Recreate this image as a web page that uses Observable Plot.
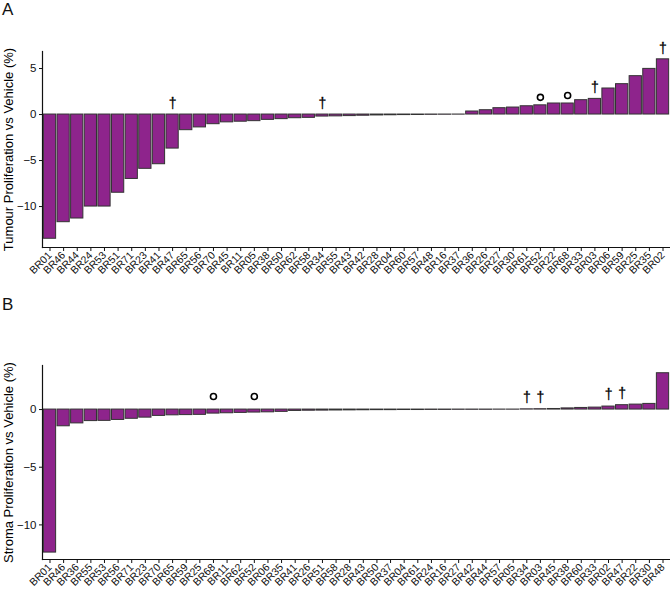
<!DOCTYPE html>
<html>
<head>
<meta charset="utf-8">
<script src="https://cdn.jsdelivr.net/npm/d3@7"></script>
<script src="https://cdn.jsdelivr.net/npm/@observablehq/plot@0.6"></script>
<style>
  html, body { margin: 0; padding: 0; background: white; }
  body { width: 670px; height: 595px; position: relative; overflow: hidden; font-family: "Liberation Sans", Arial, sans-serif; }
  .panel { position: absolute; left: 0; z-index: 1; }
  .tag { position: absolute; left: 2px; font-size: 17px; line-height: 17px; color: #111; z-index: 2; }
</style>
</head>
<body>
<div class="tag" style="top:1px">A</div>
<div class="tag" style="top:296px">B</div>
<div id="pa" class="panel" style="top:0px"></div>
<div id="pb" class="panel" style="top:290px"></div>
<script>
const tumourNames = ["BR01","BR46","BR44","BR24","BR53","BR51","BR71","BR23","BR41","BR47","BR65","BR56","BR70","BR45","BR11","BR05","BR38","BR50","BR62","BR58","BR34","BR55","BR43","BR42","BR28","BR04","BR60","BR57","BR48","BR16","BR37","BR36","BR26","BR27","BR30","BR61","BR52","BR22","BR68","BR33","BR03","BR06","BR59","BR25","BR35","BR02"];
const tumourValues = [-13.5,-11.7,-11.3,-10.0,-10.0,-8.5,-7.0,-5.9,-5.4,-3.7,-1.7,-1.4,-1.05,-0.85,-0.78,-0.72,-0.58,-0.5,-0.4,-0.36,-0.22,-0.2,-0.17,-0.13,-0.1,-0.08,-0.06,-0.05,-0.03,-0.02,-0.01,0.33,0.47,0.69,0.76,0.9,1.0,1.2,1.2,1.56,1.7,2.83,3.3,4.17,4.96,6.0];
const tumourDaggers = ["BR47","BR34","BR03","BR02"];
const tumourCircles = ["BR52","BR68"];
const tumourTicks = [5, 0, -5, -10];

const stromaNames = ["BR01","BR46","BR36","BR55","BR53","BR56","BR71","BR23","BR70","BR65","BR59","BR25","BR68","BR11","BR62","BR52","BR06","BR35","BR41","BR26","BR51","BR58","BR28","BR43","BR50","BR37","BR04","BR61","BR24","BR16","BR27","BR42","BR44","BR57","BR05","BR34","BR03","BR45","BR38","BR60","BR33","BR02","BR47","BR22","BR30","BR48"];
const stromaValues = [-12.4,-1.45,-1.2,-1.0,-0.98,-0.9,-0.8,-0.7,-0.55,-0.5,-0.48,-0.46,-0.35,-0.32,-0.29,-0.26,-0.24,-0.2,-0.12,-0.1,-0.09,-0.08,-0.07,-0.06,-0.05,-0.05,-0.04,-0.04,-0.03,-0.03,-0.02,-0.02,-0.02,-0.01,-0.01,0.02,0.03,0.05,0.1,0.14,0.17,0.26,0.38,0.43,0.49,3.15];
const stromaDaggers = ["BR34","BR03","BR02","BR47"];
const stromaCircles = ["BR68","BR52"];
const stromaTicks = [0, -5, -10];

const FONT = '"Liberation Sans", Arial, sans-serif';

function panel({names, values, daggers, circles, ticks, domain, height, marginTop, marginBottom, ylabel, daggerDy, circleDy}) {
  const data = names.map((n, i) => ({name: n, value: values[i]}));
  const top = d => Math.max(d.value, 0);
  return Plot.plot({
    width: 670,
    height,
    marginLeft: 42,
    marginRight: 0,
    marginTop,
    marginBottom,
    style: {fontFamily: FONT, fontSize: "11px", overflow: "visible", background: "transparent", color: "#111"},
    x: {domain: names, padding: 0.1, round: false, label: null},
    y: {domain, label: null},
    marks: [
      Plot.barY(data, {x: "name", y: "value", fill: "#8e248c", stroke: "#333", strokeWidth: 1}),
      Plot.axisX({tickRotate: -45, tickSize: 4, tickPadding: 2, fontSize: 10.5, label: null}),
      Plot.axisY({ticks, tickSize: 3, tickPadding: 3, fontSize: 11.5, label: null}),
      Plot.frame({anchor: "left", strokeWidth: 1.2}),
      Plot.frame({anchor: "bottom", strokeWidth: 1.2}),
      Plot.text(data.filter(d => daggers.includes(d.name)), {x: "name", y: top, text: () => "†", dy: daggerDy, fontSize: 14, lineAnchor: "middle", fill: "black", stroke: "black", strokeWidth: 0.3}),
      Plot.dot(data.filter(d => circles.includes(d.name)), {x: "name", y: top, r: 3, stroke: "black", strokeWidth: 1.6, fill: "none", dy: circleDy}),
      Plot.text([ylabel], {frameAnchor: "left", rotate: -90, dx: -34, fontSize: 13, text: d => d, textAnchor: "middle", lineAnchor: "middle", fill: "black"})
    ]
  });
}

document.getElementById("pa").append(panel({
  names: tumourNames, values: tumourValues, daggers: tumourDaggers, circles: tumourCircles,
  ticks: tumourTicks, domain: [-14.45, 6.85], height: 290, marginTop: 51, marginBottom: 43,
  ylabel: "Tumour Proliferation vs Vehicle (%)", daggerDy: -11, circleDy: -8
}));

document.getElementById("pb").append(panel({
  names: stromaNames, values: stromaValues, daggers: stromaDaggers, circles: stromaCircles,
  ticks: stromaTicks, domain: [-13.0, 3.82], height: 305, marginTop: 75, marginBottom: 36,
  ylabel: "Stroma Proliferation vs Vehicle (%)", daggerDy: -12, circleDy: -13
}));
</script>
</body>
</html>
